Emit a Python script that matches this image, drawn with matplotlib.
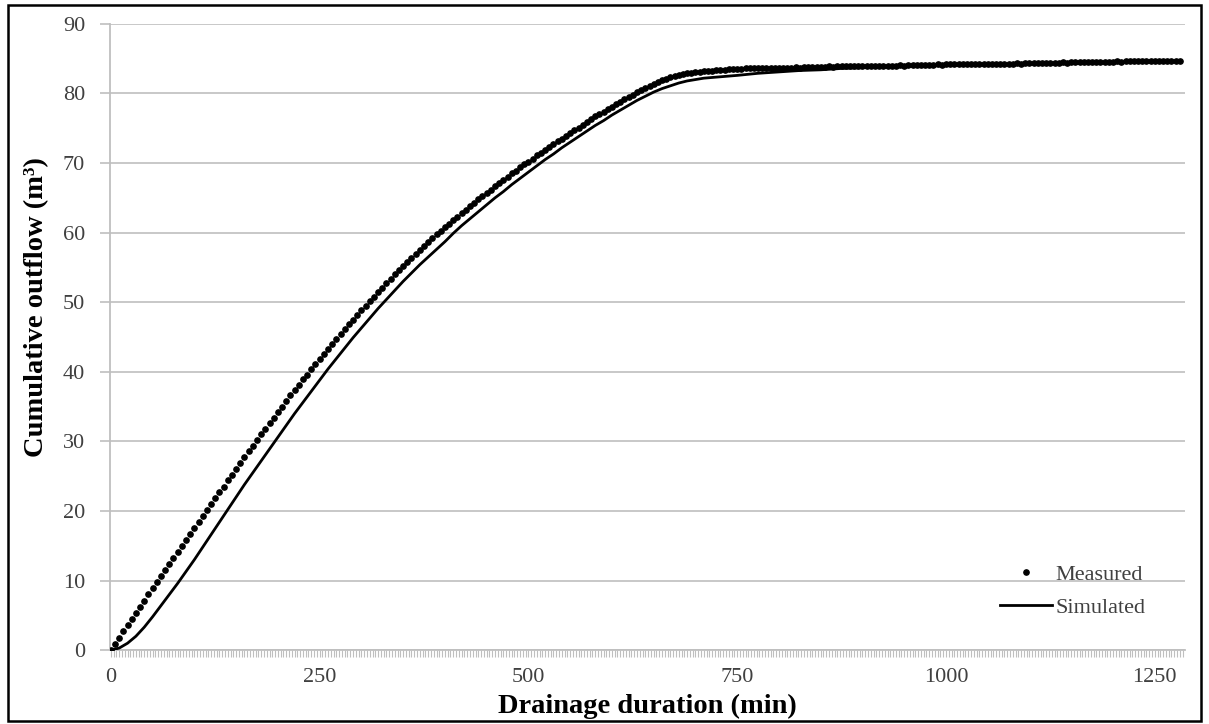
import matplotlib
matplotlib.use("Agg")
import matplotlib.pyplot as plt
import numpy as np
from matplotlib.patches import Rectangle
from matplotlib.ticker import MultipleLocator

plt.rcParams["font.family"] = ["Liberation Serif", "DejaVu Serif"]

# measured cumulative outflow, one reading every 5 min from 0 to 1280 min
measured_step = 5
measured_m3 = [
    0.0, 0.9, 1.8, 2.7, 3.6, 4.5, 5.3, 6.2, 7.1, 8.0,
    8.9, 9.8, 10.6, 11.5, 12.4, 13.2, 14.1, 15.0, 15.8, 16.7,
    17.5, 18.4, 19.3, 20.1, 21.0, 21.8, 22.7, 23.5, 24.4, 25.2,
    26.1, 26.9, 27.7, 28.6, 29.4, 30.2, 31.0, 31.8, 32.6, 33.4,
    34.2, 35.0, 35.8, 36.6, 37.4, 38.1, 38.9, 39.6, 40.4, 41.1,
    41.8, 42.6, 43.3, 44.0, 44.7, 45.4, 46.1, 46.8, 47.5, 48.2,
    48.9, 49.5, 50.2, 50.8, 51.5, 52.1, 52.7, 53.3, 54.0, 54.6,
    55.2, 55.8, 56.4, 57.0, 57.5, 58.1, 58.7, 59.2, 59.8, 60.3,
    60.8, 61.3, 61.8, 62.3, 62.8, 63.3, 63.8, 64.3, 64.8, 65.3,
    65.7, 66.2, 66.7, 67.1, 67.6, 68.0, 68.5, 68.9, 69.4, 69.8,
    70.2, 70.6, 71.1, 71.5, 71.9, 72.3, 72.7, 73.1, 73.5, 73.9,
    74.3, 74.7, 75.1, 75.5, 75.9, 76.3, 76.7, 77.0, 77.4, 77.8,
    78.1, 78.5, 78.8, 79.2, 79.5, 79.8, 80.2, 80.5, 80.8, 81.1,
    81.4, 81.6, 81.9, 82.1, 82.3, 82.5, 82.6, 82.8, 82.9, 83.0,
    83.1, 83.1, 83.2, 83.3, 83.3, 83.4, 83.4, 83.4, 83.5, 83.5,
    83.5,
    83.5, 83.6, 83.6, 83.6, 83.6, 83.6, 83.7, 83.7, 83.7, 83.7,
    83.7, 83.7, 83.7, 83.8, 83.7, 83.8, 83.8, 83.8, 83.8, 83.8,
    83.8, 83.9, 83.8, 83.9, 83.9, 83.9, 83.9, 83.9, 83.9, 84.0,
    83.9, 84.0, 84.0, 84.0, 84.0, 84.0, 84.0, 84.0, 84.1, 84.0,
    84.1, 84.1, 84.1, 84.1, 84.1, 84.1, 84.1, 84.2, 84.1, 84.2,
    84.2, 84.2, 84.2, 84.2, 84.2, 84.2, 84.3, 84.2, 84.3, 84.3,
    84.3, 84.3, 84.3, 84.3, 84.3, 84.3, 84.4, 84.3, 84.4, 84.4,
    84.4, 84.4, 84.4, 84.4, 84.4, 84.4, 84.4, 84.5, 84.4, 84.5,
    84.5, 84.5, 84.5, 84.5, 84.5, 84.5, 84.5, 84.5, 84.5, 84.5,
    84.6, 84.5, 84.6, 84.6, 84.6, 84.6, 84.6, 84.6, 84.6, 84.6,
    84.6, 84.6, 84.6, 84.6, 84.6, 84.6,
]
measured_min = np.arange(len(measured_m3)) * measured_step

# simulated curve
simulated_min = [
    0, 10, 20, 30, 40, 50, 60, 70, 80, 90,
    100, 110, 120, 130, 140, 150, 160, 170, 180, 190,
    200, 210, 220, 230, 240, 250, 260, 270, 280, 290,
    300, 310, 320, 330, 340, 350, 360, 370, 380, 390,
    400, 410, 420, 430, 440, 450, 460, 470, 480, 490,
    500, 510, 520, 530, 540, 550, 560, 570, 580, 590,
    600, 610, 620, 630, 640, 650, 660, 670, 680, 690,
    700, 710, 720, 730, 740, 750, 775, 800, 825, 850,
    875, 900, 950, 1000, 1050, 1100, 1150, 1200, 1250, 1280,
]
simulated_m3 = [
    0.0, 0.3, 1.0, 2.0, 3.3, 4.8, 6.4, 8.0, 9.6, 11.3,
    13.0, 14.8, 16.6, 18.4, 20.2, 22.0, 23.8, 25.5, 27.2, 28.9,
    30.6, 32.3, 34.0, 35.6, 37.2, 38.8, 40.4, 41.9, 43.4, 44.9,
    46.3, 47.7, 49.1, 50.4, 51.7, 53.0, 54.2, 55.4, 56.5, 57.6,
    58.7, 59.9, 61.0, 62.0, 63.0, 64.0, 65.0, 65.9, 66.9, 67.8,
    68.7, 69.6, 70.5, 71.3, 72.2, 73.0, 73.8, 74.6, 75.4, 76.1,
    76.9, 77.6, 78.3, 79.0, 79.6, 80.2, 80.7, 81.1, 81.5, 81.8,
    82.0, 82.2, 82.3, 82.4, 82.5, 82.6, 82.9, 83.1, 83.3, 83.4,
    83.6, 83.7, 83.9, 84.0, 84.1, 84.2, 84.3, 84.4, 84.5, 84.6,
]

x_ticks = [0, 250, 500, 750, 1000, 1250]
y_ticks = list(range(0, 91, 10))

GRID = "#bfbfbf"
TICKTXT = "#404040"

fig = plt.figure(figsize=(12.09, 7.24), dpi=100)
ax = fig.add_axes([0.091, 0.102, 0.889, 0.865])

ax.plot(measured_min, measured_m3, ls="none", marker="o", ms=3.8,
        color="black", label="Measured", zorder=3)
ax.plot(simulated_min, simulated_m3, color="black", lw=2.0,
        label="Simulated", zorder=3)

ax.set_xlim(-1, 1286)
ax.set_ylim(0, 90)
ax.set_xticks(x_ticks)
ax.set_yticks(y_ticks)
ax.xaxis.set_minor_locator(MultipleLocator(10 / 3))
ax.grid(axis="y", color=GRID, lw=1.2)
ax.set_axisbelow(True)
for s in ["top", "right"]:
    ax.spines[s].set_visible(False)
for s in ["left", "bottom"]:
    ax.spines[s].set_color(GRID)
    ax.spines[s].set_linewidth(1.3)
ax.tick_params(axis="y", length=7, width=1.2, color=GRID, pad=11,
               labelsize=16, labelcolor=TICKTXT)
ax.tick_params(axis="x", which="both", length=5, width=0.8, color=GRID,
               pad=8, labelsize=16, labelcolor=TICKTXT)

ax.set_xlabel("Drainage duration (min)", fontsize=20.5, fontweight="bold",
              labelpad=5)
ax.set_ylabel("Cumulative outflow (m³)", fontsize=20.5, fontweight="bold")
ax.yaxis.set_label_coords(-0.057, 0.548)

ax.legend(loc="upper left", bbox_to_anchor=(0.828, 0.137), frameon=False,
          fontsize=16, handlelength=2.35, handletextpad=0.15,
          labelspacing=0.55, borderpad=0, borderaxespad=0,
          labelcolor=TICKTXT)

fig.patches.append(Rectangle((0.007, 0.004), 0.986, 0.989,
                             transform=fig.transFigure, fill=False,
                             edgecolor="black", lw=1.8))

fig.savefig("out.png", dpi=100, facecolor="white")
